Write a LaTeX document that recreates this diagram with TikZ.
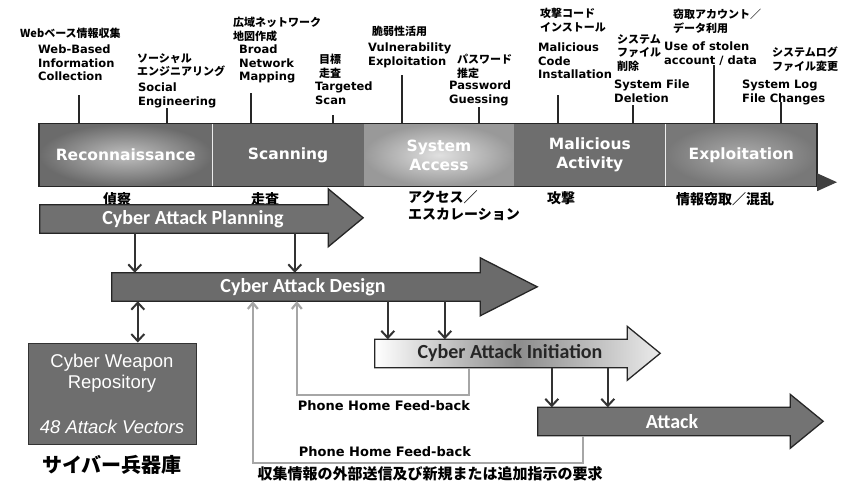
\documentclass[tikz,border=0pt]{standalone}
\usepackage{fontspec}
\setmainfont{DejaVu Sans}
\newfontfamily\jpfont{Noto Sans CJK JP}
\newfontfamily\calfont{Carlito}
\newfontfamily\arialfont{Liberation Sans}
\usetikzlibrary{arrows.meta,positioning}

\begin{document}
\begin{tikzpicture}[
    x=1pt, y=-1pt,
    phase/.style={minimum height=62pt, inner sep=0pt, align=center, text=white, font=\bfseries\fontsize{15.5}{19}\selectfont},
    entry/.style={anchor=north west, inner sep=0pt, align=left, font=\bfseries\fontsize{11.5}{13.5}\selectfont},
    jpentry/.style={anchor=north west, inner sep=0pt, align=left, font=\jpfont\bfseries\fontsize{11}{13.5}\selectfont},
    jpnote/.style={inner sep=0pt, align=left, font=\jpfont\bfseries\fontsize{14}{17}\selectfont},
    tick/.style={line width=1.4pt, black!85},
    body/.style={minimum height=28pt, inner sep=0pt},
    stagetext/.style={font=\calfont\bfseries\fontsize{20}{24}\selectfont, text=white},
    bigarrow/.style={draw=black!85, line width=1.3pt, line join=miter},
    flow/.style={line width=2pt, black!80, -{Straight Barb[length=7pt,width=13pt]}},
    twoway/.style={line width=2pt, black!80, {Straight Barb[length=7pt,width=13pt]}-{Straight Barb[length=7pt,width=13pt]}},
    feedback/.style={line width=2.2pt, black!35, -{Straight Barb[length=6pt,width=10pt]}},
    fbtext/.style={font=\bfseries\fontsize{13}{15}\selectfont}
]
\useasboundingbox (0,0) rectangle (843,480);

% phase bar
\node[phase, minimum width=173pt, anchor=west, inner color=black!25, outer color=black!58] (recon) at (39,155) {Reconnaissance};
\node[phase, minimum width=151pt, right=0pt of recon, fill=black!58] (scan) {Scanning};
\node[phase, minimum width=150pt, right=0pt of scan, inner color=black!12, outer color=black!40] (access) {System\\Access};
\node[phase, minimum width=151pt, right=0pt of access, fill=black!57] (malicious) {Malicious\\Activity};
\node[phase, minimum width=151pt, right=0pt of malicious, inner color=black!33, outer color=black!53] (exploit) {Exploitation};
\draw[line width=1.3pt, black!85] (recon.north west) rectangle (exploit.south east);
\fill[black!75] (exploit.south east) ++(0,-13) -- ++(20,9) -- ++(-20,9) -- cycle;

% activities above the bar
\node[jpentry] (webjp) at (20,28) {Webベース情報収集};
\node[entry] (web) at (38,45) {Web-Based\\Information\\Collection};
\node[jpentry] (socjp) at (137,53) {ソーシャル\\エンジニアリング};
\node[entry] (soc) at (138,83) {Social\\Engineering};
\node[jpentry] (mapjp) at (233,17) {広域ネットワーク\\地図作成};
\node[entry] (map) at (239,45) {Broad\\Network\\Mapping};
\node[jpentry] (tgtjp) at (319,54) {目標\\走査};
\node[entry] (tgt) at (315,82) {Targeted\\Scan};
\node[jpentry] (vulnjp) at (372,26) {脆弱性活用};
\node[entry] (vuln) at (368,43) {Vulnerability\\Exploitation};
\node[jpentry] (pwdjp) at (457,54) {パスワード\\推定};
\node[entry] (pwd) at (449,81) {Password\\Guessing};
\node[jpentry] (codejp) at (540,8) {攻撃コード\\インストール};
\node[entry] (code) at (538,43) {Malicious\\Code\\Installation};
\node[jpentry] (deljp) at (617,34) {システム\\ファイル\\削除};
\node[entry] (del) at (614,80) {System File\\Deletion};
\node[jpentry] (stolenjp) at (673,9) {窃取アカウント／\\データ利用};
\node[entry] (stolen) at (664,42) {Use of stolen\\account / data};
\node[jpentry] (logjp) at (772,47) {システムログ\\ファイル変更};
\node[entry] (log) at (742,80) {System Log\\File Changes};
\foreach \x/\t in {79/95, 167/108, 251/93, 333/115, 402/75, 479/107, 558/95, 633/105, 714/65, 781/102}
  \draw[tick] (\x,\t) -- (\x,124);

% Japanese phase names
\node[jpnote] (reconjp) at (117,199) {偵察};
\node[jpnote] (scanjp) at (265,199) {走査};
\node[jpnote, anchor=north west] (accessjp) at (408,190) {アクセス／\\エスカレーション};
\node[jpnote] (maliciousjp) at (561,198) {攻撃};
\node[jpnote] (exploitjp) at (725,199) {情報窃取／混乱};

% attack stages
\node[body, minimum width=288pt] (plan) at (184,219) {};
\draw[bigarrow, fill=black!56] (plan.north west) -- (plan.north east) -- ++(0,-16) -- ++(35,29) -- ++(-35,29) -- (plan.south east) -- (plan.south west) -- cycle;
\node[stagetext] (plantxt) at ([xshift=9pt]plan.center) {Cyber Attack Planning};

\node[body, minimum width=368pt] (design) at (296,287) {};
\draw[bigarrow, fill=black!58] (design.north west) -- (design.north east) -- ++(0,-15) -- ++(57,29) -- ++(-57,29) -- (design.south east) -- (design.south west) -- cycle;
\node[stagetext] (designtxt) at ([xshift=7pt]design.center) {Cyber Attack Design};

\node[body, minimum width=252pt] (init) at (501,353.5) {};
\draw[bigarrow, left color=white, right color=black!8, middle color=black!45] (init.north west) -- (init.north east) -- ++(0,-13) -- ++(33,27) -- ++(-33,27) -- (init.south east) -- (init.south west) -- cycle;
\node[stagetext, text=black!85] (inittxt) at ([xshift=9pt]init.center) {Cyber Attack Initiation};

\node[body, minimum width=252pt] (attack) at (664,421.5) {};
\draw[bigarrow, fill=black!55] (attack.north west) -- (attack.north east) -- ++(0,-13) -- ++(33,27) -- ++(-33,27) -- (attack.south east) -- (attack.south west) -- cycle;
\node[stagetext] (attacktxt) at ([xshift=8pt]attack.center) {Attack};

% weapon repository
\node[draw=black!80, line width=1pt, fill=black!57, minimum width=168pt, minimum height=101pt, align=center, text=white, font=\arialfont\fontsize{18.5}{21}\selectfont] (repo) at (112,393.5) {Cyber Weapon\\Repository\\[24pt]\textit{48 Attack Vectors}};
\node[below=11pt of repo, inner sep=0pt, font=\jpfont\bfseries\fontsize{20}{24}\selectfont] (armory) {サイバー兵器庫};

% flow between stages
\coordinate (p1) at ([xshift=95pt]plan.south west);
\coordinate (p2) at ([xshift=255pt]plan.south west);
\coordinate (d1) at ([xshift=276pt]design.south west);
\coordinate (d2) at ([xshift=333pt]design.south west);
\coordinate (i1) at ([xshift=177pt]init.south west);
\coordinate (i2) at ([xshift=233pt]init.south west);
\coordinate (d0) at ([xshift=26pt]design.south west);
\draw[flow] (p1) -- (p1 |- design.north);
\draw[flow] (p2) -- (p2 |- design.north);
\draw[flow] (d1) -- (d1 |- init.north);
\draw[flow] (d2) -- (d2 |- init.north);
\draw[flow] (i1) -- (i1 |- attack.north);
\draw[flow] (i2) -- (i2 |- attack.north);
\draw[twoway] (d0) -- (d0 |- repo.north);

% phone home
\draw[feedback] ([xshift=94pt]init.south west) -- ++(0,27) -| ([xshift=185pt]design.south west);
\node[fbtext] (fb1) at (384,406) {Phone Home Feed-back};
\draw[feedback] ([xshift=45pt]attack.south west) -- ++(0,27.5) -| ([xshift=141pt]design.south west);
\node[fbtext] (fb2) at (385,452) {Phone Home Feed-back};
\node[inner sep=0pt, font=\jpfont\bfseries\fontsize{15}{18}\selectfont] (request) at (430,474) {収集情報の外部送信及び新規または追加指示の要求};
\end{tikzpicture}
\end{document}
